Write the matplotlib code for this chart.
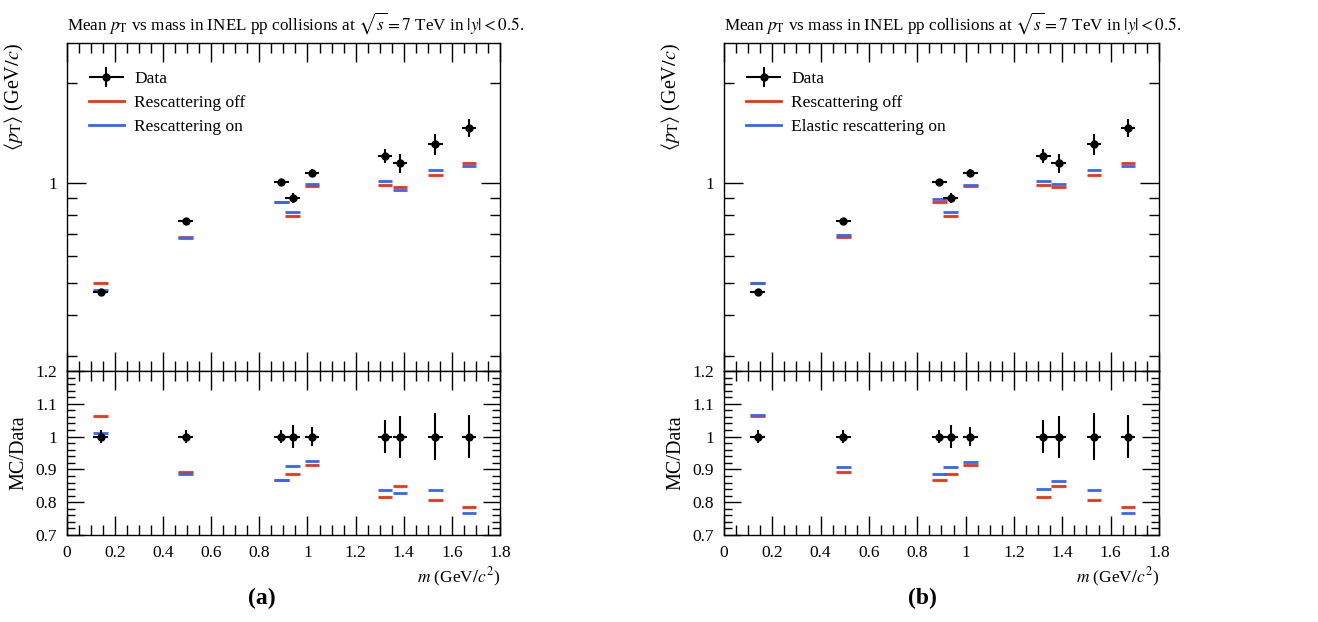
import numpy as np
import matplotlib
matplotlib.use("Agg")
import matplotlib.pyplot as plt
from matplotlib.lines import Line2D
from matplotlib.legend_handler import HandlerErrorbar
from matplotlib.ticker import LogLocator, NullFormatter, FuncFormatter, MultipleLocator

plt.rcParams['font.family'] = ['Liberation Serif', 'DejaVu Serif']
plt.rcParams['mathtext.fontset'] = 'stix'

# hadron masses (GeV/c^2): pi, K, K*0, p, phi, Xi, Sigma*, Xi*, Omega
mass = [0.1396, 0.4937, 0.8917, 0.9383, 1.0195, 1.3217, 1.3853, 1.5318, 1.6725]
data_pt = [0.469, 0.769, 1.009, 0.899, 1.070, 1.209, 1.147, 1.309, 1.469]
data_relerr = [0.019, 0.020, 0.020, 0.035, 0.028, 0.050, 0.064, 0.071, 0.065]

resc_off = [0.4985, 0.686, 0.876, 0.796, 0.977, 0.987, 0.975, 1.056, 1.153]
resc_on = [0.4746, 0.681, 0.877, 0.818, 0.990, 1.012, 0.951, 1.094, 1.128]
elastic_on = [0.4995, 0.697, 0.893, 0.816, 0.987, 1.017, 0.992, 1.097, 1.128]

red = '#EE3311'
blue = '#3366FF'
halfw = 0.03

fig = plt.figure(figsize=(13.18, 6.22), dpi=100)

title = r'Mean $p_\mathrm{T}$ vs mass in INEL pp collisions at $\sqrt{s} = 7$ TeV in $|y| < 0.5$.'


def style_ticks(ax):
    ax.tick_params(which='both', direction='in', top=True, right=True, labelsize=12.5, pad=7)
    ax.tick_params(which='major', length=14, width=1)
    ax.tick_params(which='minor', length=7, width=1)
    for s in ax.spines.values():
        s.set_linewidth(1.0)


def panel(left, width, mc_on, on_label, tag, tagx):
    ax = fig.add_axes([left, 0.4035, width, 0.5273])
    rx = fig.add_axes([left, 0.1399, width, 0.2636], sharex=ax)

    m = np.array(mass)
    d = np.array(data_pt)
    derr = d * np.array(data_relerr)
    off = np.array(resc_off)
    on = np.array(mc_on)

    # main panel
    ax.hlines(off, m - halfw, m + halfw, color=red, lw=2)
    ax.hlines(on, m - halfw, m + halfw, color=blue, lw=2)
    eb = ax.errorbar(m, d, yerr=derr, xerr=halfw, fmt='o', color='black', ms=5, lw=1.5, capsize=0)
    ax.set_yscale('log')
    ax.set_ylim(0.27, 2.65)
    ax.set_xlim(0, 1.8)
    ax.yaxis.set_major_locator(LogLocator(base=10))
    ax.yaxis.set_major_formatter(FuncFormatter(lambda v, p: '%g' % v))
    ax.yaxis.set_minor_locator(LogLocator(base=10, subs=np.arange(2, 10)))
    ax.yaxis.set_minor_formatter(NullFormatter())
    ax.xaxis.set_major_locator(MultipleLocator(0.2))
    ax.xaxis.set_minor_locator(MultipleLocator(0.05))
    style_ticks(ax)
    ax.tick_params(axis='x', labelbottom=False)
    ax.set_title(title, loc='left', fontsize=12.3, pad=10)
    ax.set_ylabel(r'$\langle p_\mathrm{T} \rangle$ (GeV$/c$)', loc='top', fontsize=14.5)
    ax.yaxis.set_label_coords(-0.095, 1.0)

    handles = [
        eb,
        Line2D([0], [0], color=red, lw=2),
        Line2D([0], [0], color=blue, lw=2),
    ]
    ax.legend(handles, ['Data', 'Rescattering off', on_label], loc='upper left',
              frameon=False, fontsize=12.5, handlelength=2.0, handletextpad=0.6,
              labelspacing=0.45, borderaxespad=0, borderpad=0,
              bbox_to_anchor=(0.051, 0.915),
              handler_map={type(eb): HandlerErrorbar(xerr_size=1.0, yerr_size=0.6)})

    # ratio panel
    rx.hlines(off / d, m - halfw, m + halfw, color=red, lw=2)
    rx.hlines(on / d, m - halfw, m + halfw, color=blue, lw=2)
    rx.errorbar(m, np.ones_like(m), yerr=data_relerr, xerr=halfw, fmt='o', color='black',
                ms=5, lw=1.5, capsize=0)
    rx.set_ylim(0.7, 1.2)
    rx.set_xlim(0, 1.8)
    rx.yaxis.set_major_locator(MultipleLocator(0.1))
    rx.yaxis.set_minor_locator(MultipleLocator(0.02))
    rx.yaxis.set_major_formatter(FuncFormatter(lambda v, p: '%g' % round(v, 2)))
    rx.xaxis.set_major_formatter(FuncFormatter(lambda v, p: '%g' % round(v, 2)))
    style_ticks(rx)
    rx.tick_params(which='major', axis='y', length=12)
    rx.tick_params(which='minor', axis='y', length=6)
    rx.set_ylabel('MC/Data', fontsize=14.5)
    rx.yaxis.set_label_coords(-0.088, 0.5)
    rx.set_xlabel(r'$m$ (GeV$/c^2$)', loc='right', fontsize=12.5)

    fig.text(tagx, 0.038, tag, fontsize=17, fontweight='bold', ha='center', va='center')


panel(0.0508, 0.3285, resc_on, 'Rescattering on', '(a)', 0.199)
panel(0.5493, 0.330, elastic_on, 'Elastic rescattering on', '(b)', 0.6995)

fig.savefig('out.png', dpi=100)
